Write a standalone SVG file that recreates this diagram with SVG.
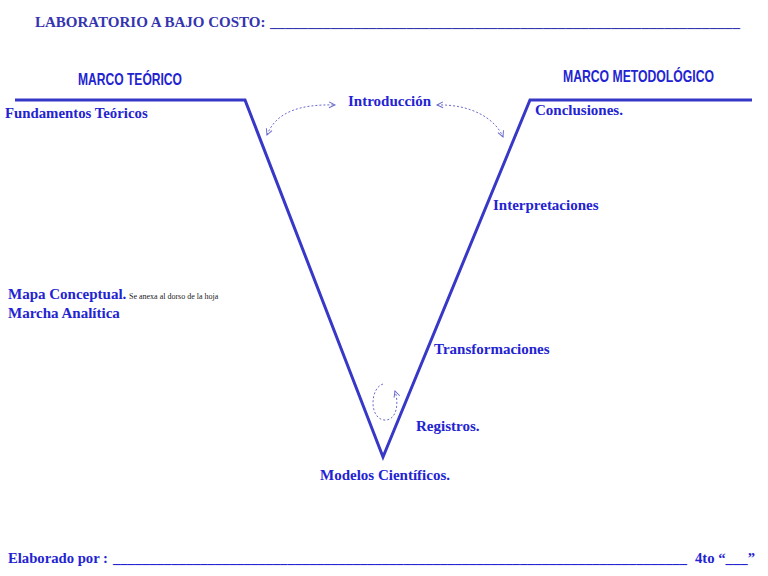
<svg xmlns="http://www.w3.org/2000/svg" width="768" height="576" viewBox="0 0 768 576">
<defs>
<style>
.s{font-family:"Liberation Serif","Times New Roman",serif;font-weight:bold;fill:#2323d2}
.h{font-family:"Liberation Sans Narrow","Liberation Sans",Arial,sans-serif;font-weight:bold;fill:#2323d2}
.v{stroke:#3838c8;stroke-width:3;fill:none}
.d{stroke:#6a6ad0;stroke-width:1;stroke-dasharray:2,2;fill:none}
</style>
<marker id="ah" markerWidth="10" markerHeight="10" refX="7" refY="4" orient="auto-start-reverse" markerUnits="userSpaceOnUse">
<path d="M1,1 L7,4 L1,7" fill="none" stroke="#6a6ad0" stroke-width="1"/>
</marker>
</defs>
<rect width="768" height="576" fill="#ffffff"/>
<g id="title"><text class="s" x="35" y="27" font-size="15" style="fill:#3535b0"><tspan>LABORATORIO A BAJO COSTO:</tspan><tspan x="270" textLength="470" lengthAdjust="spacingAndGlyphs">______________________________________________________________</tspan></text></g>
<g id="connectors">
<polyline class="v" points="15,100 245,100 383,457 530,100 752,100"/>
<path class="d" d="M267,135 C276,112 300,104 335,105" marker-start="url(#ah)" marker-end="url(#ah)"/>
<path class="d" d="M437,105 C470,104 495,118 503,137" marker-start="url(#ah)" marker-end="url(#ah)"/>
<path class="d" d="M383,384 C370,388 369,418 384,420 C397,421 399,403 395,391" marker-end="url(#ah)"/>
</g>
<g id="marco-teorico"><text class="h" x="78" y="85" font-size="16.5" textLength="104" lengthAdjust="spacingAndGlyphs">MARCO TEÓRICO</text></g>
<g id="marco-metodologico"><text class="h" x="563" y="82" font-size="16.5" textLength="151" lengthAdjust="spacingAndGlyphs">MARCO METODOLÓGICO</text></g>
<g id="fundamentos"><text class="s" x="5" y="118" font-size="14.8">Fundamentos Teóricos</text></g>
<g id="introduccion"><text class="s" x="348" y="106" font-size="15">Introducción</text></g>
<g id="conclusiones"><text class="s" x="535" y="115" font-size="15">Conclusiones.</text></g>
<g id="interpretaciones"><text class="s" x="493" y="210" font-size="15">Interpretaciones</text></g>
<g id="mapa"><text class="s" x="8" y="299" font-size="15">Mapa Conceptual.<tspan x="129" font-size="8" font-weight="normal" style="fill:#222">Se anexa al dorso de la hoja</tspan></text></g>
<g id="marcha"><text class="s" x="8" y="318" font-size="15">Marcha Analítica</text></g>
<g id="transformaciones"><text class="s" x="434" y="354" font-size="15">Transformaciones</text></g>
<g id="registros"><text class="s" x="416" y="431" font-size="15">Registros.</text></g>
<g id="modelos"><text class="s" x="320" y="480" font-size="15">Modelos Científicos.</text></g>
<g id="footer">
<text class="s" x="8" y="563" font-size="14.5" textLength="100" lengthAdjust="spacingAndGlyphs">Elaborado por :</text>
<text class="s" x="113" y="563" font-size="14.5" textLength="574" lengthAdjust="spacingAndGlyphs">_______________________________________________________________________________</text>
<text class="s" x="695" y="563" font-size="14.5" textLength="60" lengthAdjust="spacingAndGlyphs">4to “___”</text>
</g>
</svg>
